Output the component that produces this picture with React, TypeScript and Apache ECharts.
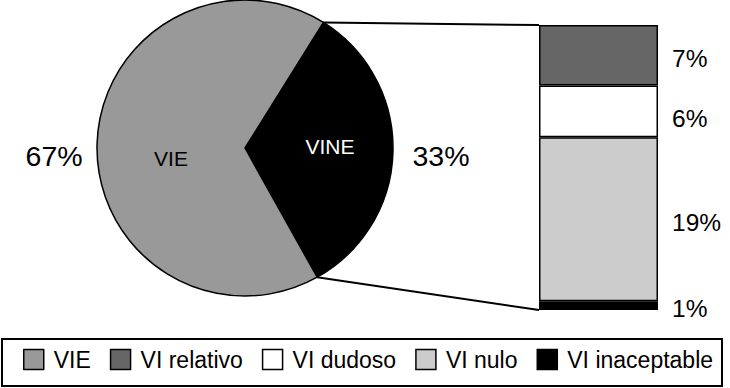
import React, { useEffect, useRef } from "react";
import * as echarts from "echarts";

const pieNames = ["VINE", "VIE"];
const pieValues = [33, 67];
const pieColors = ["#000000", "#999999"];
const pieLabelColors = ["#ffffff", "#000000"];

const barNames = ["VI inaceptable", "VI nulo", "VI dudoso", "VI relativo"];
const barValues = [1, 19, 6, 7];
const barColors = ["#000000", "#cccccc", "#ffffff", "#666666"];

const legendOrder = ["VIE", "VI relativo", "VI dudoso", "VI nulo", "VI inaceptable"];

const FONT = "'Liberation Sans', Arial, Helvetica, sans-serif";

// label placement tweaks (style only)
const pieNameOffsets = [[8, -3], [3, 12]];
const piePctOffsets = [[0, 3], [5, 13]];
const barLabelOffsets = [[0, 3], [0, 3.5], [0, 7], [0, 3]];

export default function App() {
  const ref = useRef<HTMLDivElement>(null);
  useEffect(() => {
    if (!ref.current) return;
    const chart = echarts.init(ref.current, null, { renderer: "svg" });
    const cx = 245, cy = 148, r = 148;
    const startAngle = 58;
    const gridLeft = 539, gridTop = 25, gridWidth = 119, gridHeight = 285;
    const total = pieValues.reduce((a, b) => a + b, 0);
    const a1 = (startAngle * Math.PI) / 180;
    const a2 = ((startAngle - (360 * pieValues[0]) / total) * Math.PI) / 180;
    const p1 = [cx + r * Math.cos(a1), cy - r * Math.sin(a1)];
    const p2 = [cx + r * Math.cos(a2), cy - r * Math.sin(a2)];
    const barMax = barValues.reduce((a, b) => a + b, 0);

    const pieData = pieNames.map((n, i) => ({
      name: n,
      value: pieValues[i],
      itemStyle: { color: pieColors[i] },
      label: { color: pieLabelColors[i], offset: pieNameOffsets[i] },
    }));

    chart.setOption({
      animation: false,
      backgroundColor: "#ffffff",
      textStyle: { fontFamily: FONT },
      legend: {
        data: legendOrder,
        left: 23,
        top: 348,
        padding: 0,
        itemWidth: 20,
        itemHeight: 20,
        itemGap: 19,
        icon: "rect",
        selectedMode: false,
        itemStyle: { borderColor: "#000", borderWidth: 1.5 },
        textStyle: { fontFamily: FONT, fontSize: 23, color: "#000", padding: [2, 0, 0, 5] },
      },
      graphic: [
        {
          type: "rect",
          shape: { x: 2, y: 339, width: 720, height: 47 },
          style: { fill: "none", stroke: "#000", lineWidth: 2 },
          silent: true,
        },
        {
          type: "line",
          shape: { x1: p1[0], y1: p1[1], x2: gridLeft, y2: gridTop },
          style: { stroke: "#000", lineWidth: 2 },
          silent: true,
        },
        {
          type: "line",
          shape: { x1: p2[0], y1: p2[1], x2: gridLeft, y2: gridTop + gridHeight },
          style: { stroke: "#000", lineWidth: 2 },
          silent: true,
        },
      ],
      grid: { left: gridLeft, top: gridTop, width: gridWidth, height: gridHeight },
      xAxis: { type: "category", data: [""], show: false },
      yAxis: { type: "value", min: 0, max: barMax, show: false },
      series: [
        {
          type: "pie",
          center: [cx, cy],
          radius: r,
          startAngle,
          clockwise: true,
          data: pieData,
          itemStyle: { borderColor: "#000", borderWidth: 1.5 },
          label: { show: true, position: "inner", formatter: "{b}", fontFamily: FONT, fontSize: 21 },
          labelLine: { show: false },
          emphasis: { disabled: true },
          silent: true,
        },
        {
          type: "pie",
          center: [cx, cy],
          radius: [178, 208],
          startAngle,
          clockwise: true,
          data: pieNames.map((n, i) => ({
            name: n + "_pct",
            value: pieValues[i],
            label: { offset: piePctOffsets[i] },
          })),
          itemStyle: { color: "transparent" },
          label: {
            show: true,
            position: "inside",
            formatter: "{c}%",
            color: "#000",
            fontFamily: FONT,
            fontSize: 28.5,
          },
          labelLine: { show: false },
          emphasis: { disabled: true },
          silent: true,
        },
        ...barNames.map((n, i) => ({
          type: "bar",
          name: n,
          stack: "s",
          barWidth: "100%",
          data: [barValues[i]],
          itemStyle: { color: barColors[i], borderColor: "#000", borderWidth: 1.5 },
          label: {
            show: true,
            position: "right",
            distance: 14,
            formatter: "{c}%",
            color: "#000",
            fontFamily: FONT,
            fontSize: 24.5,
            offset: barLabelOffsets[i],
          },
          silent: true,
        })),
      ],
    });
    return () => chart.dispose();
  }, []);
  return <div ref={ref} style={{ width: 730, height: 388, position: "absolute", left: 0, top: 0 }} />;
}
